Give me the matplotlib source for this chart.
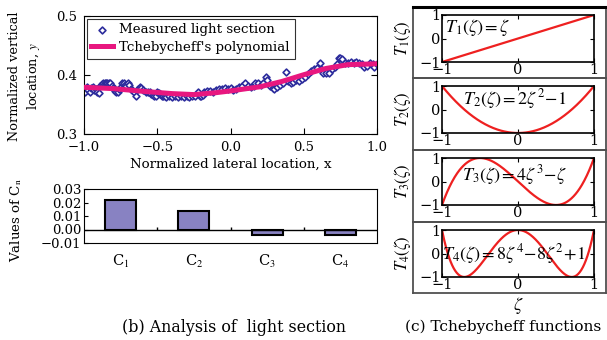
import numpy as np
import matplotlib

matplotlib.use("Agg")
import matplotlib.pyplot as plt

plt.rcParams["font.family"] = ["DejaVu Serif"]
plt.rcParams["mathtext.fontset"] = "stix"

# measured light section
meas_x = [-1.0, -0.99, -0.98, -0.97, -0.96, -0.95, -0.94, -0.93, -0.92, -0.91, -0.90,
          -0.89, -0.88, -0.87, -0.86, -0.85, -0.84, -0.83, -0.82, -0.81, -0.80, -0.79, -0.78, -0.77,
          -0.76, -0.75, -0.74, -0.73, -0.72, -0.71, -0.70, -0.69, -0.68, -0.67, -0.66, -0.645,
          -0.63, -0.62, -0.61, -0.60, -0.58, -0.56, -0.55, -0.54, -0.53, -0.52, -0.51, -0.50,
          -0.49, -0.48, -0.47, -0.46, -0.45, -0.44, -0.42, -0.40, -0.38, -0.36, -0.34, -0.32,
          -0.30, -0.28, -0.26, -0.24, -0.22, -0.21, -0.20, -0.19, -0.18, -0.16, -0.14, -0.12,
          -0.10, -0.08, -0.06, -0.04, -0.02, 0.0, 0.02, 0.04, 0.06, 0.08, 0.10, 0.12, 0.14,
          0.16, 0.17, 0.19, 0.21, 0.22, 0.24, 0.25, 0.27, 0.29, 0.30, 0.32, 0.34, 0.36, 0.38,
          0.39, 0.41, 0.43, 0.45, 0.47, 0.49, 0.51, 0.53, 0.55, 0.57, 0.59, 0.61, 0.62, 0.63,
          0.65, 0.67, 0.69, 0.71, 0.73, 0.74, 0.75, 0.76, 0.78, 0.80, 0.82, 0.84, 0.86, 0.88,
          0.90, 0.91, 0.93, 0.95, 0.97, 0.98, 1.0]
meas_y = [0.377, 0.372, 0.380, 0.374, 0.372, 0.378, 0.380, 0.375, 0.377, 0.372, 0.370,
          0.381, 0.384, 0.386, 0.387, 0.387, 0.386, 0.387, 0.386, 0.381, 0.378, 0.373, 0.372, 0.371,
          0.376, 0.379, 0.386, 0.387, 0.383, 0.382, 0.387, 0.383, 0.376, 0.374, 0.372, 0.365,
          0.376, 0.379, 0.378, 0.374, 0.372, 0.371, 0.372, 0.368, 0.366, 0.364, 0.364, 0.371,
          0.370, 0.367, 0.365, 0.364, 0.365, 0.363, 0.364, 0.363, 0.364, 0.363, 0.364, 0.363,
          0.364, 0.363, 0.364, 0.365, 0.372, 0.365, 0.364, 0.366, 0.372, 0.373, 0.373, 0.372,
          0.374, 0.376, 0.377, 0.378, 0.377, 0.378, 0.375, 0.376, 0.379, 0.381, 0.386, 0.381, 0.380,
          0.382, 0.386, 0.386, 0.383, 0.386, 0.396, 0.391, 0.381, 0.378, 0.377, 0.379, 0.383, 0.387, 0.405,
          0.389, 0.386, 0.388, 0.391, 0.390, 0.394, 0.397, 0.402, 0.407, 0.410, 0.412, 0.421, 0.411, 0.404,
          0.403, 0.404, 0.410, 0.414, 0.418, 0.428, 0.429, 0.427, 0.421, 0.420, 0.422, 0.421, 0.422, 0.420,
          0.418, 0.413, 0.415, 0.421, 0.419, 0.414, 0.418]

# Tchebycheff polynomial fit
fit_x = [-1.0, -0.8, -0.6, -0.4, -0.25, -0.1, 0.0, 0.2, 0.35, 0.5, 0.65, 0.8, 1.0]
fit_y = [0.3792, 0.3769, 0.3724, 0.3685, 0.3668, 0.370, 0.373, 0.380, 0.389, 0.4005, 0.411, 0.4175, 0.419]

# coefficients
coef_labels = ["C$_1$", "C$_2$", "C$_3$", "C$_4$"]
coef_values = [0.022, 0.0135, -0.0042, -0.0042]

cheb_labels = [r"$T_1(\zeta)=\zeta$", r"$T_2(\zeta)=2\zeta^2\!-\!1$",
               r"$T_3(\zeta)=4\zeta^3\!-\!\zeta$", r"$T_4(\zeta)=8\zeta^4\!-\!8\zeta^2\!+\!1$"]
cheb_ylabels = [r"$T_1(\zeta)$", r"$T_2(\zeta)$", r"$T_3(\zeta)$", r"$T_4(\zeta)$"]
cheb_text_pos = [(0.02, 0.73), (0.14, 0.72), (0.13, 0.63), (0.0, 0.5)]

W, H = 607, 340
fig = plt.figure(figsize=(W / 100, H / 100), dpi=100)


def box(l, t, r, b):
    return [l / W, 1 - b / H, (r - l) / W, (b - t) / H]


# (b) light section
ax = fig.add_axes(box(84, 16, 377, 134))
ax.scatter(meas_x, meas_y, marker="D", s=12, facecolors="white", edgecolors="#2b2b9c",
           linewidths=1.2, label="Measured light section", zorder=2)
ax.plot(fit_x, fit_y, color="#e8177f", lw=3.6, label="Tchebycheff's polynomial", zorder=3)
ax.set_xlim(-1, 1)
ax.set_ylim(0.3, 0.5)
ax.set_xticks([-1, -0.5, 0, 0.5, 1])
ax.set_xticklabels(["\u22121.0", "\u22120.5", "0.0", "0.5", "1.0"])
ax.set_yticks([0.3, 0.4, 0.5])
ax.tick_params(direction="in", right=True, labelsize=9.5, length=4, pad=5)
ax.set_xlabel("Normalized lateral location, x", fontsize=9.6, labelpad=3)
leg = ax.legend(loc="upper left", fontsize=9.6, frameon=True, fancybox=False,
                edgecolor="black", borderaxespad=0.2, handlelength=1.6, borderpad=0.35,
                labelspacing=0.35, handletextpad=0.5)
leg.get_frame().set_linewidth(0.8)
fig.text(25 / W, 1 - 76 / H, "Normalized vertical\nlocation, $y$", rotation=90,
         ha="center", va="center", fontsize=9.3, multialignment="center", linespacing=1.3)

bx = fig.add_axes(box(84, 189, 377, 243))
pos = np.arange(len(coef_values))
bx.bar(pos, coef_values, width=0.42, color="#8882c2", edgecolor="black", linewidth=1.5, zorder=2)
bx.axhline(0, color="black", lw=1)
bx.vlines(pos[:-1] + 0.5, 0, 0.0015, color="black", lw=1)
bx.set_xlim(-0.5, len(coef_values) - 0.5)
bx.set_ylim(-0.01, 0.03)
bx.set_yticks([-0.01, 0, 0.01, 0.02, 0.03])
bx.set_yticklabels(["\u22120.01", "0.00", "0.01", "0.02", "0.03"])
bx.set_xticks(pos)
bx.set_xticklabels(coef_labels, fontsize=10.5)
bx.tick_params(axis="x", length=0, pad=7)
bx.tick_params(axis="y", direction="in", labelsize=9.5, length=3, pad=2)
fig.text(16 / W, 1 - 220 / H, r"Values of C$_\mathrm{n}$", rotation=90, ha="center",
         va="center", fontsize=9.6)

fig.text(234 / W, 1 - 327 / H, "(b) Analysis of  light section", ha="center", va="center",
         fontsize=11.4)
fig.text(405 / W, 1 - 327 / H, "(c) Tchebycheff functions", ha="left", va="center",
         fontsize=11.1)

# (c) Tchebycheff functions
zeta = np.linspace(-1, 1, 300)
edges = [7, 78, 150, 222, 293]
for i in range(4):
    fr = fig.add_axes(box(413, edges[i], 606, edges[i + 1]))
    fr.set_xticks([])
    fr.set_yticks([])
    fr.patch.set_alpha(0)
    for s in fr.spines.values():
        s.set_color("#505050")
        s.set_linewidth(1.3)
    if i == 0:
        fr.spines["top"].set_color("black")
        fr.spines["top"].set_linewidth(2.2)

    top = edges[i] + 8
    cx = fig.add_axes(box(442, top, 594, top + 47))
    T = np.polynomial.Chebyshev.basis(i + 1)
    cx.plot(zeta, T(zeta), color="#ee2020", lw=1.6)
    cx.set_xlim(-1, 1)
    cx.set_ylim(-1, 1)
    cx.set_xticks([-1, 0, 1])
    cx.set_yticks([-1, 0, 1])
    cx.set_xticklabels(["\u22121", "0", "1"])
    cx.set_yticklabels(["\u22121", "0", "1"])
    cx.tick_params(direction="in", top=True, right=True, labelsize=10.5, length=3, pad=1)
    for s in cx.spines.values():
        s.set_linewidth(1.2)
    tx, ty = cheb_text_pos[i]
    cx.text(tx, ty, cheb_labels[i], transform=cx.transAxes, ha="left", va="center",
            fontsize=13)
    cx.set_ylabel(cheb_ylabels[i], fontsize=12)
    cx.yaxis.set_label_coords(-0.19, 0.5)
    if i == 3:
        cx.set_xlabel(r"$\zeta$", fontsize=13, labelpad=2)

fig.savefig("out.png", dpi=100)
